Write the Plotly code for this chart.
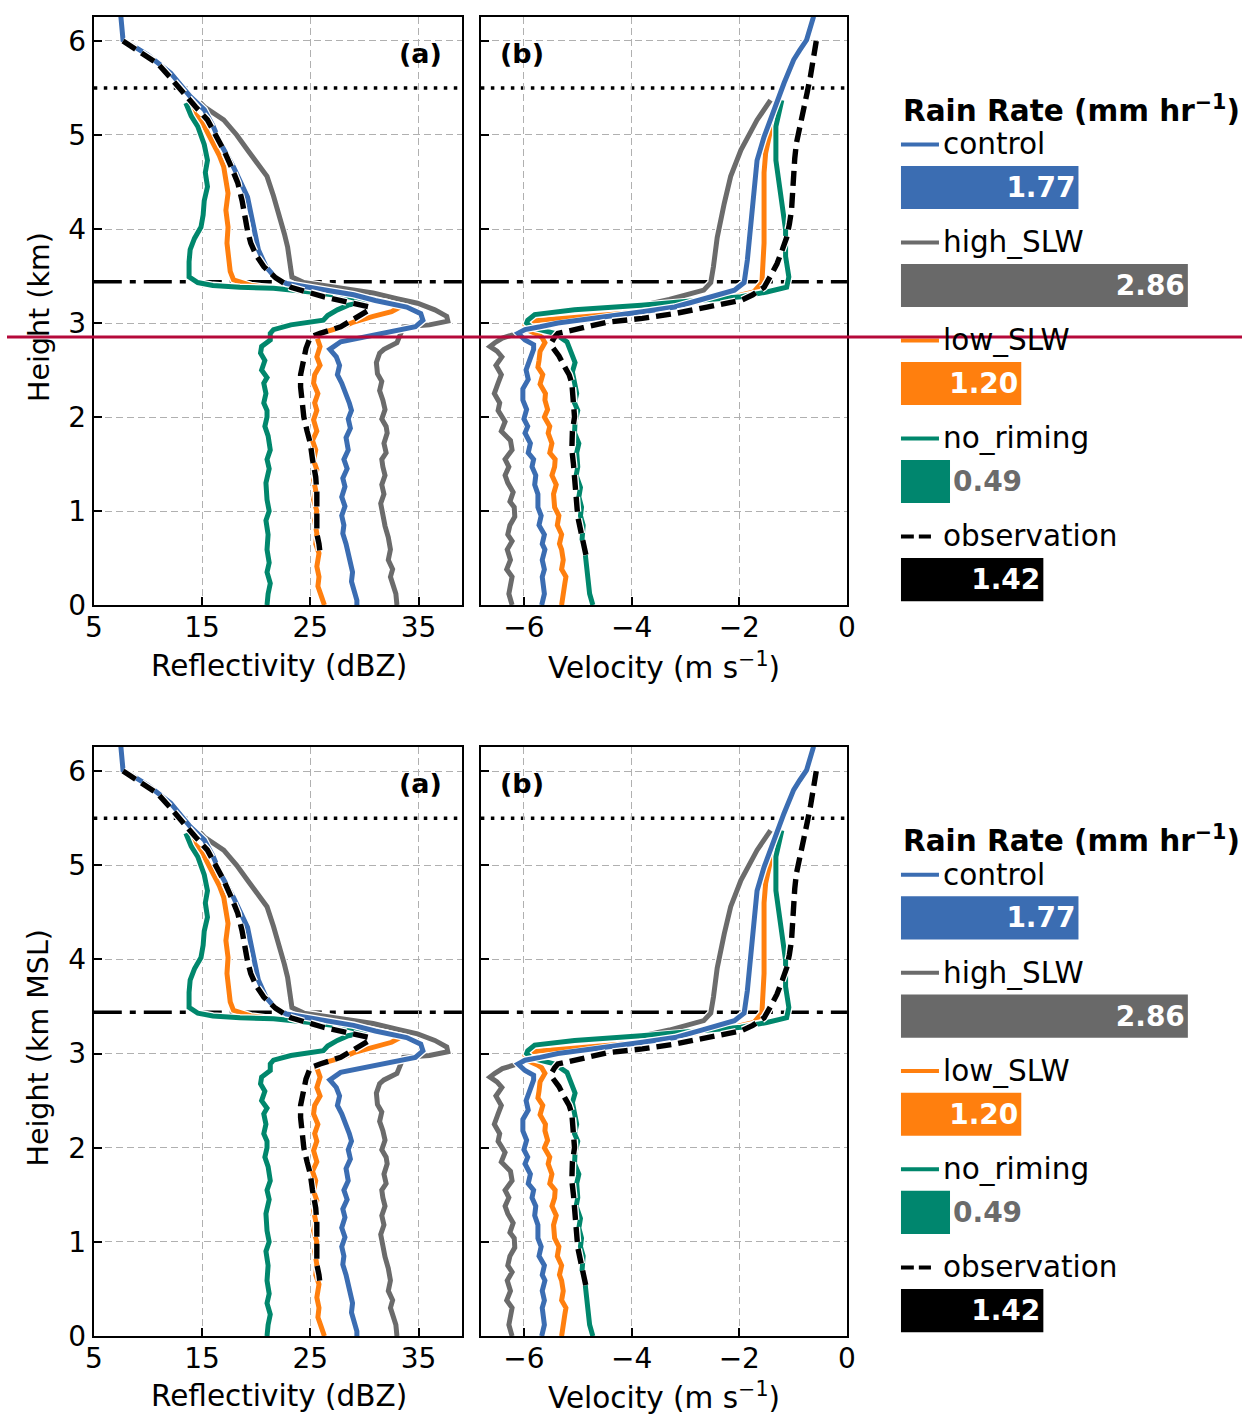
import plotly.graph_objects as go

W, H = 1251, 1426
FONT = "DejaVu Sans"

# ---------------- data ----------------
series_names = ["control", "high_SLW", "low_SLW", "no_riming", "observation"]
series_colors = ["#3b6db2", "#6b6b6b", "#ff7f0e", "#00876c", "#000000"]
bar_colors = ["#3b6db2", "#696969", "#ff7f0e", "#00866e", "#000000"]
rain_rates = [1.77, 2.86, 1.20, 0.49, 1.42]

# Reflectivity (dBZ) profiles: heights (km) and values
ctl_z_h = [6.26, 6.10, 6.01, 5.95, 5.85, 5.66, 5.41, 5.27, 5.10, 4.91, 4.66, 4.34, 4.02, 3.78, 3.60, 3.48, 3.42,
           3.37, 3.30, 3.24, 3.17, 3.10, 3.03, 2.96, 2.91, 2.85, 2.80, 2.72, 2.64, 2.55, 2.45, 2.36, 2.25, 2.15,
           2.07, 1.98, 1.88, 1.78, 1.65, 1.55, 1.45, 1.35, 1.26, 1.15, 1.05, 0.95, 0.85, 0.76, 0.65, 0.55, 0.45,
           0.35, 0.25, 0.15, 0.05, 0.0]
ctl_z = [7.5, 7.6, 7.7, 8.6, 10.0, 12.1, 13.9, 15.2, 16.0, 16.7, 17.9, 19.2, 19.8, 20.2, 20.9, 21.8, 22.8,
         25.5, 29.0, 31.0, 33.9, 35.2, 35.4, 34.7, 32.5, 29.5, 27.8, 26.8, 27.4, 27.7, 27.5, 27.9, 28.3, 28.6,
         28.8, 28.5, 28.7, 28.3, 28.5, 28.1, 28.4, 28.0, 28.2, 27.9, 28.2, 27.9, 28.1, 28.0, 28.3, 28.5, 28.7,
         28.9, 28.8, 29.1, 29.3, 29.3]

hi_z_h = [5.35, 5.30, 5.16, 5.00, 4.84, 4.70, 4.56, 4.35, 4.13, 3.95, 3.81, 3.60, 3.49, 3.43, 3.38, 3.32, 3.26,
          3.21, 3.14, 3.07, 3.02, 2.98, 2.96, 2.89, 2.79, 2.72, 2.68, 2.58, 2.46, 2.38, 2.28, 2.18, 2.08, 1.98,
          1.90, 1.83, 1.72, 1.62, 1.55, 1.47, 1.38, 1.28, 1.18, 1.08, 0.94, 0.84, 0.72, 0.59, 0.48, 0.38, 0.30,
          0.23, 0.12, 0.0]
hi_z = [14.8, 15.2, 17.0, 18.2, 19.2, 20.1, 21.0, 21.6, 22.2, 22.6, 22.9, 23.1, 23.3, 24.4, 27.5, 30.8, 33.0,
        34.9, 36.5, 37.6, 37.7, 36.0, 33.6, 33.3, 33.0, 31.8, 31.4, 31.1, 31.2, 31.6, 31.4, 31.7, 31.9, 31.6,
        32.0, 32.1, 31.8, 32.0, 31.6, 31.7, 31.9, 31.6, 31.8, 31.5, 31.7, 31.9, 32.2, 32.4, 32.2, 32.6, 32.4,
        32.6, 32.9, 33.0]

lo_z_h = [5.30, 5.27, 5.16, 5.05, 4.91, 4.78, 4.66, 4.50, 4.38, 4.20, 4.02, 3.85, 3.67, 3.55, 3.46, 3.40, 3.37,
          3.33, 3.28, 3.22, 3.17, 3.12, 3.07, 3.01, 2.96, 2.89, 2.85, 2.75, 2.64, 2.55, 2.45, 2.36, 2.25, 2.15,
          2.07, 1.97, 1.85, 1.75, 1.65, 1.54, 1.44, 1.33, 1.22, 1.12, 1.00, 0.90, 0.76, 0.65, 0.55, 0.41, 0.30,
          0.20, 0.10, 0.0]
lo_z = [13.8, 13.9, 14.9, 15.4, 16.1, 16.6, 17.0, 17.2, 17.4, 17.2, 17.4, 17.3, 17.5, 17.6, 17.9, 19.5, 21.5,
        24.5, 28.5, 32.0, 33.3, 32.5, 30.8, 29.0, 28.0, 25.9, 25.6, 25.9, 25.6, 25.9, 25.4, 25.3, 25.7, 25.4,
        25.6, 25.3, 25.6, 25.2, 25.5, 25.3, 25.6, 25.3, 25.5, 25.3, 25.6, 25.4, 25.6, 25.5, 25.8, 25.6, 25.8,
        25.7, 26.0, 26.3]

nr_z_h = [5.34, 5.20, 5.09, 4.90, 4.73, 4.60, 4.45, 4.30, 4.15, 4.02, 3.90, 3.78, 3.65, 3.49, 3.43, 3.40, 3.38,
          3.37, 3.33, 3.28, 3.23, 3.19, 3.14, 3.08, 3.03, 2.98, 2.93, 2.89, 2.82, 2.75, 2.68, 2.60, 2.50, 2.42,
          2.36, 2.25, 2.15, 2.07, 2.00, 1.90, 1.80, 1.65, 1.55, 1.45, 1.30, 1.12, 1.00, 0.90, 0.75, 0.59, 0.45,
          0.35, 0.23, 0.12, 0.0]
nr_z = [13.5, 14.0, 14.6, 15.2, 15.5, 15.3, 15.5, 15.2, 15.1, 14.9, 14.3, 13.9, 13.8, 13.8, 14.6, 16.0, 18.5,
        21.6, 25.0, 28.5, 30.2, 28.5, 27.5, 26.6, 26.2, 23.2, 21.6, 21.3, 21.3, 20.5, 20.4, 20.8, 20.5, 21.0,
        20.7, 20.9, 20.7, 21.0, 21.0, 20.8, 21.1, 21.3, 21.0, 21.2, 20.9, 21.0, 21.2, 20.9, 21.1, 21.0, 21.2,
        21.0, 21.3, 21.1, 21.0]

obs_z_h = [6.00, 5.90, 5.76, 5.62, 5.48, 5.30, 5.16, 5.00, 4.84, 4.66, 4.49, 4.30, 4.13, 3.98, 3.85, 3.72, 3.60,
           3.48, 3.38, 3.33, 3.28, 3.22, 3.17, 3.13, 3.10, 3.03, 2.96, 2.89, 2.85, 2.73, 2.61, 2.45, 2.32, 2.15,
           2.00, 1.85, 1.72, 1.55, 1.36, 1.20, 1.04, 0.90, 0.76, 0.65, 0.55]
obs_z = [7.7, 9.0, 10.9, 12.0, 13.0, 14.4, 15.5, 16.3, 17.0, 17.7, 18.3, 18.7, 18.9, 19.2, 19.5, 20.0, 20.7,
         21.8, 23.2, 24.7, 26.2, 28.5, 30.5, 30.3, 29.9, 28.8, 27.8, 25.9, 25.0, 24.6, 24.4, 24.1, 24.1, 24.2,
         24.4, 24.7, 25.0, 25.2, 25.5, 25.6, 25.6, 25.6, 25.6, 25.8, 25.9]

# Velocity (m s-1) profiles
ctl_v_h = [6.26, 6.12, 6.01, 5.90, 5.80, 5.55, 5.27, 4.98, 4.73, 4.38, 4.02, 3.67, 3.43, 3.35, 3.25, 3.17, 3.12,
           3.07, 3.03, 3.00, 2.96, 2.93, 2.89, 2.85, 2.82, 2.77, 2.72, 2.61, 2.50, 2.40, 2.30, 2.18, 2.08, 1.98,
           1.90, 1.83, 1.72, 1.62, 1.55, 1.47, 1.38, 1.28, 1.18, 1.04, 0.95, 0.85, 0.75, 0.65, 0.59, 0.48, 0.38,
           0.30, 0.23, 0.12, 0.0]
ctl_v = [-0.62, -0.68, -0.75, -0.88, -0.99, -1.17, -1.36, -1.54, -1.67, -1.73, -1.78, -1.85, -1.91, -2.09, -2.7,
         -3.2, -3.8, -4.44, -4.9, -5.37, -5.7, -5.98, -6.11, -6.05, -5.98, -5.82, -5.82, -5.89, -5.96, -5.92,
         -6.02, -6.02, -5.95, -6.00, -5.93, -5.98, -5.88, -5.92, -5.82, -5.85, -5.78, -5.80, -5.74, -5.74, -5.68,
         -5.72, -5.62, -5.66, -5.61, -5.66, -5.62, -5.66, -5.65, -5.62, -5.67]

hi_v_h = [5.37, 5.16, 4.84, 4.56, 4.27, 3.91, 3.60, 3.43, 3.35, 3.25, 3.15, 3.07, 3.00, 2.93, 2.88, 2.84, 2.79,
          2.75, 2.70, 2.64, 2.55, 2.45, 2.36, 2.25, 2.15, 2.07, 1.95, 1.85, 1.75, 1.65, 1.55, 1.47, 1.38, 1.30,
          1.20, 1.10, 1.04, 0.94, 0.85, 0.75, 0.68, 0.59, 0.48, 0.38, 0.30, 0.23, 0.12, 0.0]
hi_v = [-1.42, -1.67, -1.97, -2.16, -2.28, -2.41, -2.48, -2.53, -2.66, -3.3, -4.1, -4.8, -5.4, -5.9, -6.15, -6.4,
        -6.54, -6.63, -6.5, -6.41, -6.52, -6.42, -6.48, -6.55, -6.45, -6.48, -6.35, -6.42, -6.25, -6.22, -6.35,
        -6.28, -6.35, -6.30, -6.20, -6.26, -6.18, -6.17, -6.26, -6.30, -6.22, -6.31, -6.25, -6.32, -6.22, -6.25,
        -6.28, -6.22]

lo_v_h = [5.30, 5.05, 4.81, 4.60, 4.38, 3.85, 3.43, 3.33, 3.28, 3.22, 3.18, 3.13, 3.08, 3.04, 3.02, 2.98, 2.93,
          2.88, 2.85, 2.79, 2.70, 2.60, 2.53, 2.45, 2.35, 2.25, 2.18, 2.08, 2.00, 1.90, 1.83, 1.72, 1.62, 1.55,
          1.47, 1.38, 1.28, 1.18, 1.04, 0.95, 0.85, 0.75, 0.65, 0.59, 0.48, 0.38, 0.30, 0.23, 0.12, 0.0]
lo_v = [-1.27, -1.42, -1.51, -1.54, -1.54, -1.54, -1.58, -1.73, -2.1, -2.8, -3.5, -4.3, -5.0, -5.5, -5.85, -5.98,
        -5.95, -5.75, -5.67, -5.61, -5.70, -5.72, -5.74, -5.65, -5.70, -5.60, -5.61, -5.56, -5.62, -5.52, -5.55,
        -5.48, -5.52, -5.42, -5.43, -5.48, -5.40, -5.45, -5.43, -5.35, -5.38, -5.30, -5.34, -5.30, -5.27, -5.30,
        -5.22, -5.24, -5.28, -5.30]

nr_v_h = [5.37, 5.20, 5.09, 4.73, 4.38, 3.99, 3.71, 3.49, 3.38, 3.33, 3.28, 3.23, 3.19, 3.14, 3.09, 3.03, 3.00,
          2.95, 2.91, 2.89, 2.80, 2.68, 2.58, 2.48, 2.36, 2.25, 2.15, 2.07, 1.95, 1.83, 1.72, 1.62, 1.47, 1.38,
          1.25, 1.15, 1.04, 0.95, 0.85, 0.70, 0.59, 0.48, 0.35, 0.23, 0.12, 0.0]
nr_v = [-1.21, -1.28, -1.32, -1.32, -1.23, -1.14, -1.14, -1.08, -1.12, -1.49, -1.97, -2.9, -3.82, -5.06, -5.80,
        -5.93, -5.95, -5.85, -5.6, -5.43, -5.2, -5.11, -5.05, -5.10, -5.06, -5.02, -5.06, -5.00, -5.05, -5.06,
        -4.98, -5.02, -5.00, -5.03, -4.95, -4.98, -4.93, -4.95, -4.90, -4.92, -4.87, -4.85, -4.84, -4.81, -4.78,
        -4.72]

obs_v_h = [6.00, 5.80, 5.62, 5.45, 5.27, 5.10, 4.91, 4.75, 4.56, 4.38, 4.20, 4.05, 3.91, 3.78, 3.63, 3.50, 3.38,
           3.30, 3.24, 3.17, 3.10, 3.05, 3.01, 2.95, 2.89, 2.85, 2.80, 2.75, 2.65, 2.53, 2.45, 2.36, 2.20, 2.00,
           1.85, 1.65, 1.50, 1.30, 1.10, 0.94, 0.75, 0.59, 0.51]
obs_v = [-0.57, -0.62, -0.68, -0.74, -0.81, -0.88, -0.94, -0.97, -0.99, -1.01, -1.03, -1.07, -1.12, -1.20, -1.30,
         -1.42, -1.54, -1.75, -1.97, -2.6, -3.2, -3.8, -4.44, -4.9, -5.37, -5.43, -5.48, -5.48, -5.35, -5.24,
         -5.16, -5.11, -5.08, -5.06, -5.10, -5.11, -5.08, -5.06, -5.03, -5.00, -4.93, -4.87, -4.84]

melting_top = 5.5      # dotted line
melting_base = 3.44    # dash-dot line

refl_profiles = {"control": (ctl_z, ctl_z_h), "high_SLW": (hi_z, hi_z_h), "low_SLW": (lo_z, lo_z_h),
                 "no_riming": (nr_z, nr_z_h), "observation": (obs_z, obs_z_h)}
vel_profiles = {"control": (ctl_v, ctl_v_h), "high_SLW": (hi_v, hi_v_h), "low_SLW": (lo_v, lo_v_h),
                "no_riming": (nr_v, nr_v_h), "observation": (obs_v, obs_v_h)}

refl_ticks = [5, 15, 25, 35]
vel_ticks = [-6, -4, -2, 0]
vel_ticktext = ["\u22126", "\u22124", "\u22122", "0"]
height_ticks = [0, 1, 2, 3, 4, 5, 6]

# ---------------- figure ----------------
# target pixel positions (as seen in the final picture) -> layout pixels
SX, OX, SY = 0.988, 8.0, 0.988

def px(p):
    return ((p - OX) / SX) / W

def py(p):
    return 1 - (p / SY) / H

color_of = dict(zip(series_names, series_colors))
draw_order = ["high_SLW", "low_SLW", "no_riming", "control", "observation"]
OBS_DASH = "15px,7px"

fig = go.Figure()

rows = [
    dict(top=17, bottom=605, ytitle="Height (km)", ax=["", "2", "3"]),
    dict(top=747, bottom=1336, ytitle="Height (km MSL)", ax=["4", "5", "6"]),
]

layout = dict(
    width=W, height=H, margin=dict(l=0, r=0, t=0, b=0),
    paper_bgcolor="white", plot_bgcolor="white", showlegend=False,
    font=dict(family=FONT, size=28, color="black"),
    annotations=[], shapes=[],
)

axis_common = dict(showline=True, mirror=True, linecolor="black", linewidth=2,
                   ticks="inside", ticklen=8, tickwidth=1.5, tickcolor="black",
                   showgrid=True, gridcolor="#b0b0b0", gridwidth=1.3, griddash="7px,4px",
                   zeroline=False, tickfont=dict(family=FONT, size=28, color="black"))

bar_px_per_unit = 100.6 / SX

for r in rows:
    a1, a2, a3 = r["ax"]
    ydom = [py(r["bottom"]), py(r["top"])]
    xa = "x" + a1; ya = "y" + a1
    xb = "x" + a2; yb = "y" + a2
    xc = "x" + a3; yc = "y" + a3
    layout["xaxis" + a1] = dict(axis_common, domain=[px(93), px(462)], range=[5, 39], anchor=ya,
                                tickvals=refl_ticks, ticklabelstandoff=-4)
    layout["yaxis" + a1] = dict(axis_common, domain=ydom, range=[0, 6.255], anchor=xa,
                                tickvals=height_ticks)
    layout["xaxis" + a2] = dict(axis_common, domain=[px(481), px(848)], range=[-6.8, 0], anchor=yb,
                                tickvals=vel_ticks, ticktext=vel_ticktext, ticklabelstandoff=-4)
    layout["yaxis" + a2] = dict(axis_common, domain=ydom, range=[0, 6.255], anchor=xb,
                                tickvals=height_ticks, showticklabels=False)
    bar_w_px = W * (1.0 - px(902))
    layout["xaxis" + a3] = dict(domain=[px(902), 1.0], range=[0, bar_w_px / bar_px_per_unit],
                                anchor=yc, visible=False)
    layout["yaxis" + a3] = dict(domain=ydom, range=[4.26, -1.74], anchor=xc, visible=False)

    # profiles
    for (profiles, xr, yr) in [(refl_profiles, xa, ya), (vel_profiles, xb, yb)]:
        for name in draw_order:
            vals, hts = profiles[name]
            dash = OBS_DASH if name == "observation" else "solid"
            lw = 5.4 if name == "observation" else 5.0
            fig.add_trace(go.Scatter(x=vals, y=hts, mode="lines", xaxis=xr, yaxis=yr,
                                     line=dict(color="white", width=lw + 2.6, dash=dash),
                                     hoverinfo="skip"))
            fig.add_trace(go.Scatter(x=vals, y=hts, mode="lines", xaxis=xr, yaxis=yr, name=name,
                                     line=dict(color=color_of[name], width=lw, dash=dash)))
        # reference lines
        layout["shapes"].append(dict(type="line", xref=xr + " domain", yref=yr, x0=0, x1=1,
                                     y0=melting_top, y1=melting_top, layer="below",
                                     line=dict(color="black", width=3.5, dash="3.5px,6.5px")))
        layout["shapes"].append(dict(type="line", xref=xr + " domain", yref=yr, x0=0, x1=1,
                                     y0=melting_base, y1=melting_base, layer="below",
                                     line=dict(color="black", width=3.5, dash="28px,8px,6px,8px")))

    # rain-rate bars
    cats = list(range(len(series_names)))
    txt_pos = ["inside" if v > 1 else "outside" for v in rain_rates]
    txt_col = ["white" if v > 1 else "#6b6b6b" for v in rain_rates]
    fig.add_trace(go.Bar(y=cats, x=rain_rates, orientation="h", xaxis=xc, yaxis=yc, width=0.44,
                         marker=dict(color=bar_colors, line=dict(width=0)),
                         text=[f"{v:.2f}" for v in rain_rates], textposition=txt_pos,
                         insidetextanchor="end", textangle=0, cliponaxis=False,
                         textfont=dict(family=FONT, size=28, color=txt_col, weight="bold")))
    # legend swatches + labels
    for i, name in enumerate(series_names):
        ly = i - 0.44
        if name == "observation":
            layout["shapes"].append(dict(type="line", xref=xc, yref=yc, x0=0, x1=0.30, y0=ly, y1=ly,
                                         line=dict(color="black", width=4, dash="13px,5px")))
        else:
            layout["shapes"].append(dict(type="line", xref=xc, yref=yc, x0=0, x1=0.38, y0=ly, y1=ly,
                                         line=dict(color=color_of[name], width=4)))
        layout["annotations"].append(dict(xref=xc, yref=yc, x=0.40, y=ly, text=name, showarrow=False,
                                          xanchor="left", yanchor="middle",
                                          font=dict(family=FONT, size=29.5, color="black")))
    layout["annotations"].append(dict(xref=xc, yref=yc, x=0.0, y=-0.80,
                                      text="<b>Rain Rate (mm hr<sup>\u22121</sup>)</b>", showarrow=False,
                                      xanchor="left", yanchor="middle",
                                      font=dict(family=FONT, size=29.5, color="black")))

    # axis titles and panel labels
    off = r["top"] - 17
    layout["annotations"] += [
        dict(xref="paper", yref="paper", x=px(38), y=py((r["top"] + r["bottom"]) / 2 + 6),
             text=r["ytitle"], textangle=-90, showarrow=False, xanchor="center", yanchor="middle",
             font=dict(family=FONT, size=28.5)),
        dict(xref="paper", yref="paper", x=px(279), y=py(666 + off), text="Reflectivity (dBZ)",
             showarrow=False, xanchor="center", yanchor="middle", font=dict(family=FONT, size=29.5)),
        dict(xref="paper", yref="paper", x=px(665), y=py(666 + off), text="Velocity (m s<sup>\u22121</sup>)",
             showarrow=False, xanchor="center", yanchor="middle", font=dict(family=FONT, size=29.5)),
        dict(xref="paper", yref="paper", x=px(420), y=py(53 + off), text="<b>(a)</b>",
             showarrow=False, xanchor="center", yanchor="middle", font=dict(family=FONT, size=27)),
        dict(xref="paper", yref="paper", x=px(522), y=py(53 + off), text="<b>(b)</b>",
             showarrow=False, xanchor="center", yanchor="middle", font=dict(family=FONT, size=27)),
    ]

# red horizontal marker line across the figure
layout["shapes"].append(dict(type="line", xref="paper", yref="paper", x0=px(6), x1=1.0,
                             y0=py(337), y1=py(337), layer="above",
                             line=dict(color="#b5093a", width=3)))

fig.update_layout(**layout)
fig.write_html("out.html")
